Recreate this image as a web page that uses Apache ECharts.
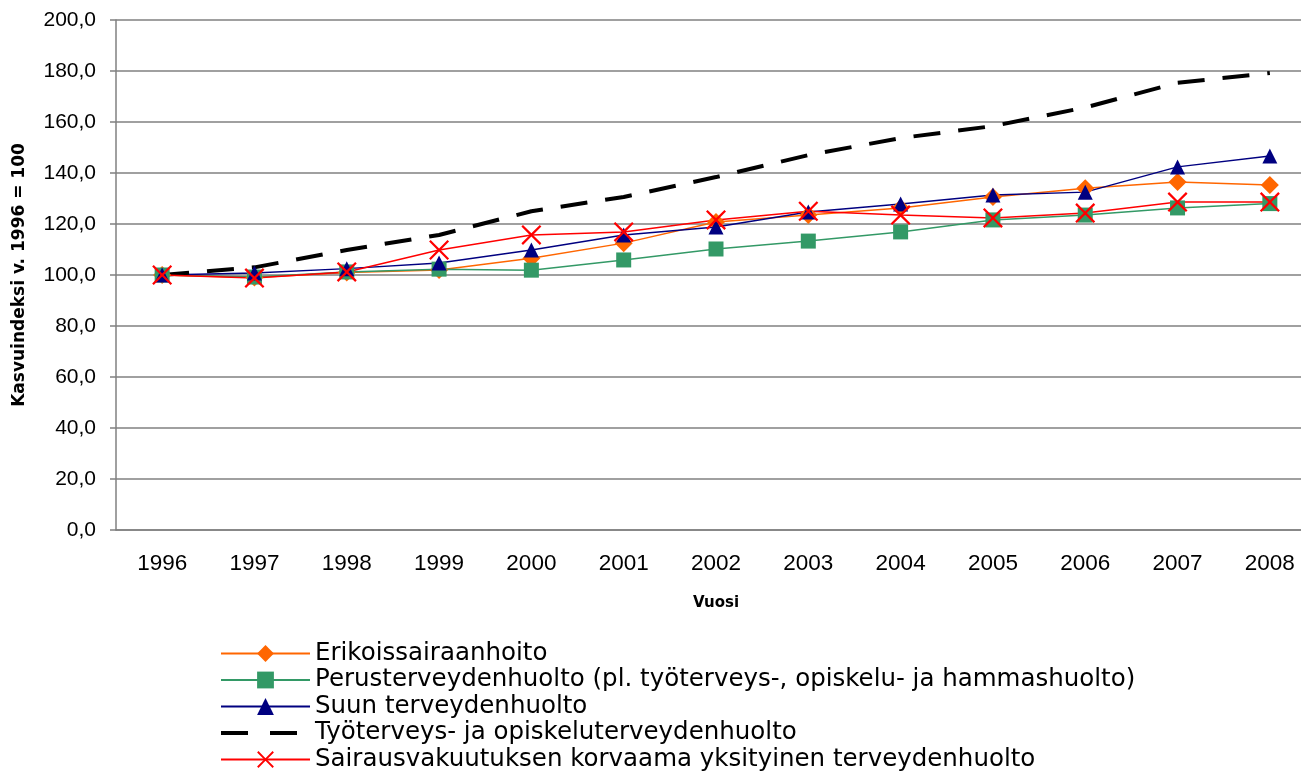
<!DOCTYPE html>
<html>
<head>
<meta charset="utf-8">
<script src="https://cdn.jsdelivr.net/npm/echarts@6/dist/echarts.min.js"></script>
<style>
  html, body { margin: 0; padding: 0; background: #fff; }
  #chart { width: 1301px; height: 774px; }
</style>
</head>
<body>
<div id="chart"></div>
<script>
var years = ['1996', '1997', '1998', '1999', '2000', '2001', '2002', '2003', '2004', '2005', '2006', '2007', '2008'];
var erikois = [100, 99, 101, 102, 106.6, 112.5, 120.8, 123.5, 126.3, 130.6, 134, 136.5, 135.3];
var perus = [100, 99.2, 101.2, 102.3, 101.9, 105.9, 110.2, 113.3, 116.9, 121.6, 123.5, 126.3, 128];
var suun = [100, 100.8, 102.5, 104.7, 109.8, 115.7, 118.8, 124.7, 127.8, 131.4, 132.5, 142.4, 146.7];
var tyo = [100, 103, 109.8, 115.7, 125, 130.6, 138.4, 147, 153.7, 158.4, 165.7, 175.4, 179.2];
var sairaus = [100, 98.8, 101.2, 109.8, 115.7, 116.9, 121.6, 125, 123.5, 122.4, 124.3, 128.6, 128.6];

var names = [
    'Erikoissairaanhoito',
    'Perusterveydenhuolto (pl. työterveys-, opiskelu- ja hammashuolto)',
    'Suun terveydenhuolto',
    'Työterveys- ja opiskeluterveydenhuolto',
    'Sairausvakuutuksen korvaama yksityinen terveydenhuolto'
];

// ohut risti
var xMark = 'path://M0,0.8L0.8,0L5,4.2L9.2,0L10,0.8L5.8,5L10,9.2L9.2,10L5,5.8L0.8,10L0,9.2L4.2,5Z';

var chart = echarts.init(document.getElementById('chart'));

function lineSeries(name, data, color, symbol, size) {
    return {
        name: name,
        type: 'line',
        data: data,
        symbol: symbol,
        symbolSize: size,
        lineStyle: { color: color, width: 1.5 },
        itemStyle: { color: color },
        animation: false
    };
}

var option = {
    backgroundColor: '#fff',
    grid: { left: 116, top: 20, right: -15, bottom: 244, outerBoundsMode: 'none', containLabel: false },
    xAxis: {
        type: 'category',
        data: years,
        boundaryGap: true,
        name: 'Vuosi',
        nameLocation: 'middle',
        nameGap: 66,
        nameTextStyle: { fontFamily: 'DejaVu Sans', fontWeight: 'bold', fontSize: 15, color: '#000' },
        axisLine: { lineStyle: { color: '#808080', width: 1.5 } },
        axisTick: { length: 8, lineStyle: { color: '#808080', width: 1.5 } },
        axisLabel: { fontFamily: 'Liberation Sans', fontSize: 22.5, color: '#000', margin: 22 }
    },
    yAxis: {
        type: 'value',
        min: 0,
        max: 200,
        interval: 20,
        name: 'Kasvuindeksi v. 1996 = 100',
        nameLocation: 'middle',
        nameGap: 88,
        nameTextStyle: { fontFamily: 'DejaVu Sans', fontWeight: 'bold', fontSize: 17, color: '#000' },
        axisLine: { show: true, lineStyle: { color: '#808080', width: 1.5 } },
        axisTick: { show: true, length: 6, lineStyle: { color: '#808080', width: 1.5 } },
        splitLine: { lineStyle: { color: '#808080', width: 1.5 } },
        axisLabel: {
            fontFamily: 'Liberation Sans', fontSize: 21, color: '#000', margin: 20,
            formatter: function (v) { return v.toFixed(1).replace('.', ','); }
        }
    },
    legend: {
        orient: 'vertical',
        left: 219,
        top: 640.5,
        height: 160,
        padding: 0,
        itemGap: 0.5,
        itemWidth: 89,
        itemHeight: 21,
        textStyle: { fontFamily: 'DejaVu Sans', fontSize: 24.5, lineHeight: 26, color: '#000' },
        data: [
            names[0], names[1], names[2],
            { name: names[3], itemStyle: { color: 'rgba(0,0,0,0)' }, lineStyle: { type: [27, 22], width: 4 } },
            names[4]
        ]
    },
    series: [
        lineSeries(names[0], erikois, '#FF6600', 'diamond', 18),
        lineSeries(names[1], perus, '#339966', 'rect', 15),
        lineSeries(names[2], suun, '#000080', 'triangle', 15),
        {
            name: names[3],
            type: 'line',
            data: tyo,
            symbol: 'none',
            lineStyle: { color: '#000', width: 4, type: [27, 18] },
            itemStyle: { color: 'rgba(0,0,0,0)' },
            animation: false
        },
        lineSeries(names[4], sairaus, '#FF0000', xMark, 20)
    ]
};

chart.setOption(option);
</script>
</body>
</html>
